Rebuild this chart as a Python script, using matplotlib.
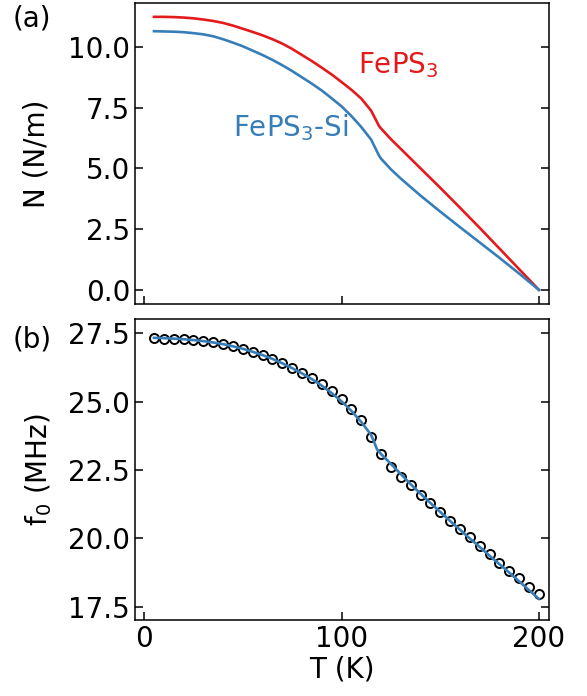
import numpy as np
import matplotlib
matplotlib.use("Agg")
import matplotlib.pyplot as plt

# (a) tension vs temperature
T_a = [5, 10, 15, 20, 25, 30, 35, 40, 45, 50, 55, 60, 65, 70, 75, 80, 85, 90,
       95, 100, 105, 110, 115, 119, 120, 125, 130, 140, 150, 160, 170, 180, 190, 200]
N_feps3 = [11.23, 11.23, 11.22, 11.20, 11.17, 11.12, 11.06, 10.98, 10.87, 10.74,
           10.61, 10.47, 10.31, 10.13, 9.91, 9.66, 9.41, 9.14, 8.86, 8.55,
           8.23, 7.87, 7.37, 6.74, 6.64, 6.20, 5.80, 5.00, 4.20, 3.38, 2.55,
           1.70, 0.85, 0.0]
N_feps3_si = [10.64, 10.63, 10.62, 10.60, 10.56, 10.51, 10.43, 10.31, 10.17, 10.02,
              9.84, 9.66, 9.46, 9.24, 9.00, 8.74, 8.48, 8.20, 7.88, 7.55,
              7.15, 6.70, 6.18, 5.52, 5.40, 4.96, 4.58, 3.88, 3.22, 2.58, 1.95,
              1.32, 0.67, 0.0]

# (b) resonance frequency, measured points
T_b = list(range(5, 205, 5))
f0_meas = [27.32, 27.30, 27.29, 27.27, 27.24, 27.21, 27.16, 27.10, 27.02, 26.93,
           26.83, 26.71, 26.56, 26.40, 26.24, 26.05, 25.85, 25.63, 25.38, 25.10,
           24.73, 24.33, 23.70, 23.07, 22.62, 22.25, 21.94, 21.60, 21.28, 20.95,
           20.64, 20.35, 20.04, 19.72, 19.41, 19.10, 18.80, 18.54, 18.23, 17.96]

# (b) model curve
T_fit = [5, 10, 15, 20, 25, 30, 35, 40, 45, 50, 55, 60, 65, 70, 75, 80, 85, 90,
         95, 100, 105, 110, 115, 118, 120, 125, 130, 135, 140, 145, 150, 155,
         160, 165, 170, 175, 180, 185, 190, 195, 200]
f0_fit = [27.33, 27.32, 27.30, 27.28, 27.25, 27.21, 27.16, 27.10, 27.02, 26.93,
          26.82, 26.70, 26.56, 26.40, 26.22, 26.03, 25.82, 25.58, 25.31, 25.01,
          24.66, 24.25, 23.78, 23.25, 23.08, 22.72, 22.35, 21.98, 21.63, 21.29,
          20.96, 20.63, 20.31, 19.99, 19.68, 19.36, 19.05, 18.74, 18.42, 18.10, 17.78]

red = "#e41a1c"
blue = "#377eb8"
fs = 20

plt.rcParams['font.family'] = ['DejaVu Sans']
plt.rcParams['font.size'] = fs

fig = plt.figure(figsize=(5.87, 6.96), dpi=100)
ax1 = fig.add_axes([0.23, 0.5632, 0.705, 0.4325])
ax2 = fig.add_axes([0.23, 0.1092, 0.705, 0.4325])

for ax in (ax1, ax2):
    ax.tick_params(direction="in", length=6, width=1.1, left=True, right=True,
                   bottom=True, top=False, labelsize=fs)
    for s in ax.spines.values():
        s.set_linewidth(1.1)
    ax.set_xlim(-4.6, 205)
    ax.set_xticks([0, 100, 200])

ax1.plot(T_a, N_feps3, color=red, lw=1.9)
ax1.plot(T_a, N_feps3_si, color=blue, lw=1.9)
ax1.set_ylim(-0.58, 11.8)
ax1.set_yticks([0, 2.5, 5, 7.5, 10])
ax1.set_yticklabels(["0.0", "2.5", "5.0", "7.5", "10.0"])
ax1.tick_params(labelbottom=False)
ax1.set_ylabel("N (N/m)")
ax1.yaxis.set_label_coords(-0.205, 0.5)
ax1.text(108.4, 9.25, "FePS$_3$", color=red, fontsize=fs, va="center")
ax1.text(45, 6.66, "FePS$_3$-Si", color=blue, fontsize=fs, va="center")

ax2.plot(T_b, f0_meas, "o", mfc="none", mec="black", ms=6.5, mew=1.4)
ax2.plot(T_fit, f0_fit, color=blue, lw=1.9)
ax2.set_ylim(17.01, 28.02)
ax2.set_yticks([17.5, 20, 22.5, 25, 27.5])
ax2.set_ylabel("f$_0$ (MHz)")
ax2.yaxis.set_label_coords(-0.195, 0.5)
ax2.set_xlabel("T (K)", labelpad=2)

fig.text(0.0545, 0.974, "(a)", fontsize=fs, ha="center", va="center")
fig.text(0.0545, 0.5115, "(b)", fontsize=fs, ha="center", va="center")

fig.savefig("out.png", dpi=100)
